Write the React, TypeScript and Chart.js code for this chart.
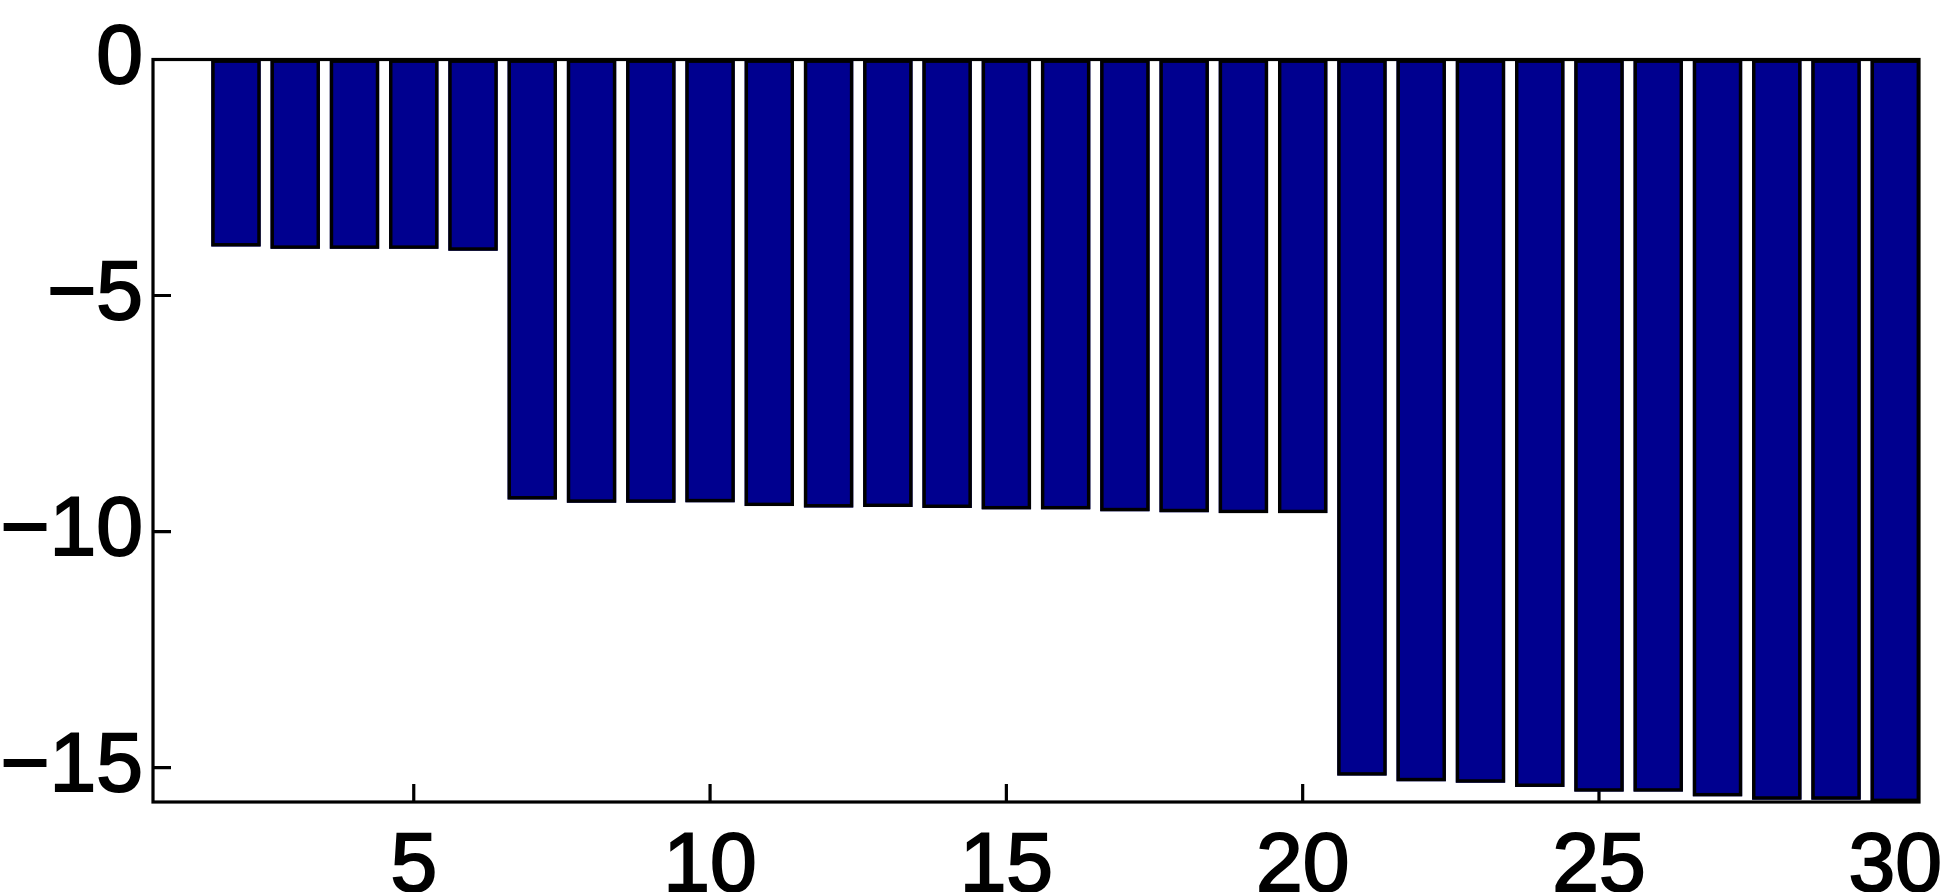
import React, { useEffect, useRef } from "react";
import { Chart, registerables } from "chart.js";

Chart.register(...registerables);

const categories = [
  1, 2, 3, 4, 5, 6, 7, 8, 9, 10, 11, 12, 13, 14, 15, 16, 17, 18, 19, 20, 21, 22, 23, 24, 25, 26, 27, 28, 29, 30,
];
const values = [
  0, -3.96, -4.01, -4.01, -4.01, -4.05, -9.32, -9.39, -9.39, -9.38, -9.46, -9.49, -9.48, -9.5, -9.53, -9.53,
  -9.57, -9.59, -9.61, -9.61, -15.17, -15.29, -15.32, -15.41, -15.51, -15.51, -15.61, -15.68, -15.68, -15.73,
];
const xTickValues = [5, 10, 15, 20, 25, 30];
const yTickValues = [-15, -10, -5, 0];
const xMin = 0.6;
const xMax = 30.4;
const yMin = -15.73;
const yMax = 0;

const FONT = '"Liberation Sans", Arial, Helvetica, sans-serif';
const LINE_W = 3.2;
const BAR_EDGE = 3.4;
const TICK_LEN = 18;

const axisBox = {
  id: "axisBox",
  beforeDatasetsDraw(chart: any) {
    const { ctx, chartArea: a, scales } = chart;
    ctx.save();
    ctx.strokeStyle = "#000";
    ctx.lineWidth = LINE_W;
    ctx.beginPath();
    for (const t of scales.x.ticks) {
      const px = scales.x.getPixelForValue(t.value);
      ctx.moveTo(px, a.bottom);
      ctx.lineTo(px, a.bottom - TICK_LEN);
      ctx.moveTo(px, a.top);
      ctx.lineTo(px, a.top + TICK_LEN);
    }
    for (const t of scales.y.ticks) {
      const py = scales.y.getPixelForValue(t.value);
      ctx.moveTo(a.left, py);
      ctx.lineTo(a.left + TICK_LEN, py);
      ctx.moveTo(a.right, py);
      ctx.lineTo(a.right - TICK_LEN, py);
    }
    ctx.stroke();
    ctx.restore();
  },
  afterDatasetsDraw(chart: any) {
    const { ctx, chartArea: a } = chart;
    ctx.save();
    // bar edges, stroked from the library's own bar elements
    const meta = chart.getDatasetMeta(0);
    ctx.strokeStyle = "#000";
    ctx.lineWidth = BAR_EDGE;
    for (const el of meta.data as any[]) {
      const p = el.getProps(["x", "y", "base", "width"], true);
      const h = p.y - p.base;
      if (Math.abs(h) < 0.5) continue;
      const left = p.x - p.width / 2 + BAR_EDGE / 2;
      const w = p.width - BAR_EDGE;
      const top = Math.min(p.y, p.base) + BAR_EDGE / 2;
      const hh = Math.abs(h) - BAR_EDGE;
      ctx.strokeRect(left, top, w, hh);
    }
    ctx.lineWidth = LINE_W;
    ctx.strokeRect(a.left, a.top, a.right - a.left, a.bottom - a.top);
    ctx.restore();
  },
};

export default function App() {
  const ref = useRef<HTMLCanvasElement | null>(null);
  useEffect(() => {
    if (!ref.current) return;
    const chart = new Chart(ref.current, {
      type: "bar",
      data: {
        datasets: [
          {
            data: categories.map((c, i) => ({ x: c, y: values[i] })),
            backgroundColor: "#00008F",
            borderWidth: 0,
            inflateAmount: 0,
            categoryPercentage: 1,
            barPercentage: 0.833,
          } as any,
        ],
      },
      options: {
        animation: false,
        responsive: true,
        maintainAspectRatio: false,
        layout: { padding: { top: 59.5, right: 35, left: 0, bottom: 0 } },
        plugins: { legend: { display: false }, tooltip: { enabled: false }, title: { display: false } },
        scales: {
          x: {
            type: "linear",
            min: xMin,
            max: xMax,
            offset: false,
            grid: { display: false },
            border: { display: false },
            afterBuildTicks: (s: any) => {
              s.ticks = xTickValues.map((v) => ({ value: v }));
            },
            afterFit: (s: any) => {
              s.height = 90;
            },
            ticks: {
              color: "#000",
              font: { family: FONT, size: 84 },
              textStrokeColor: "#000",
              textStrokeWidth: 2,
              padding: 7,
              maxRotation: 0,
              autoSkip: false,
              callback: (v: any) => String(v),
            },
          },
          y: {
            min: yMin,
            max: yMax,
            grid: { display: false },
            border: { display: false },
            afterBuildTicks: (s: any) => {
              s.ticks = yTickValues.map((v) => ({ value: v }));
            },
            afterFit: (s: any) => {
              s.width = 153;
            },
            ticks: {
              color: "#000",
              font: { family: FONT, size: 84 },
              textStrokeColor: "#000",
              textStrokeWidth: 2,
              padding: 2,
              autoSkip: false,
              callback: (v: any) => (v < 0 ? "\u2212" + Math.abs(v) : String(v)),
            },
          },
        },
      },
      plugins: [axisBox],
    });
    return () => chart.destroy();
  }, []);
  return (
    <div style={{ position: "absolute", left: 0, top: 0, width: 1954, height: 892, background: "#fff" }}>
      <canvas ref={ref} />
    </div>
  );
}
